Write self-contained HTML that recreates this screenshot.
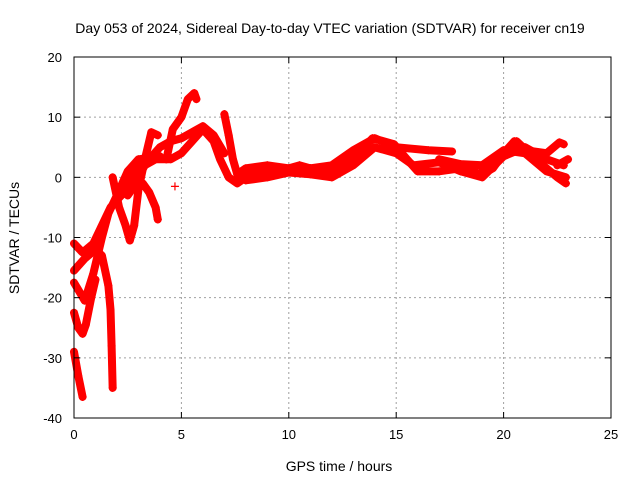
<!DOCTYPE html>
<html><head><meta charset="utf-8"><style>
body{margin:0;background:#fff}
svg{display:block;font-family:"Liberation Sans",sans-serif}
</style></head><body>
<svg id="chart" width="640" height="480">
<text x="330" y="33" text-anchor="middle" font-size="14">Day 053 of 2024, Sidereal Day-to-day VTEC variation (SDTVAR) for receiver cn19</text>
<text x="339" y="471" text-anchor="middle" font-size="14">GPS time / hours</text>
<text transform="translate(19,238) rotate(-90)" text-anchor="middle" font-size="14">SDTVAR / TECUs</text>
<g id="grid"></g><g id="marks"></g><g id="axes"></g>
</svg>
<script>
const xTicks=[0,5,10,15,20,25];
const yTicks=[20,10,0,-10,-20,-30,-40];
const trackA=[[0,-11],[0.4,-12.5],[0.9,-11],[1.3,-8],[1.7,-5],[2.2,-3],[2.8,-1],[3.3,2],[3.8,3],[4.5,3],[5,4],[5.5,6],[6,8],[6.5,6],[6.8,3],[7.2,0],[7.6,-1],[8,0],[9,1],[10,1],[11,1.5],[11.5,0.5],[12,1],[13,3],[13.9,6.5],[14.9,5.5],[15.5,3],[16,1],[17,1],[18,1.5],[19,0.5],[19.5,1.5],[20,4],[20.6,6],[21.5,3],[22.5,0],[22.9,-1]];
const trackB=[[0,-15.5],[0.5,-13.5],[1,-12],[1.3,-13],[1.6,-18],[1.7,-22],[1.75,-28],[1.8,-35]];
const trackC=[[0,-17.5],[0.5,-20.5],[0.9,-16],[1.1,-13],[1.3,-10],[1.6,-6],[2,-3],[2.5,1],[3,3],[4,3.5]];
const trackD=[[0,-22.5],[0.2,-25],[0.4,-26],[0.55,-24.5],[0.8,-20],[1.0,-17]];
const trackE=[[0,-29],[0.2,-33],[0.4,-36.5]];
const trackF=[[2.5,-3],[2.9,-1],[3.2,-1],[3.5,-2.5],[3.8,-5],[3.9,-7]];
const trackG=[[1.8,0],[2.1,-5],[2.4,-8],[2.6,-10.5],[2.8,-8],[3.0,-2],[3.3,3],[3.6,7.5],[3.9,7]];
const trackH=[[4.3,3],[4.6,8],[5,10],[5.3,13],[5.6,14],[5.7,13]];
const trackI=[[7.0,10.5],[7.2,7],[7.4,3],[7.6,0.5],[8,1.5],[9,2],[10,1.5],[11,1.5],[12,2],[13,4.5],[14,6.5],[15,5],[15.6,4.8],[16.5,4.5],[17.6,4.3]];
const trackJ=[[8,-0.5],[9,0],[10,0.8],[11,0.5],[12,0],[13,2],[14,5],[15,4],[15.8,2],[17,2.5],[18,1],[19,0],[20,3.5],[21,5],[22,3],[22.8,2]];
const trackK=[[19,1],[20,4],[20.5,6],[21,4.5],[22,4],[22.6,5.8],[22.8,5.5]];
const trackL=[[22.5,2],[23,3]];
const trackM=[[4.7,-1.5]];
const trackN=[[17,3],[18,2.2],[19,2],[20,4.5],[21,4],[22,1],[22.9,0]];
const trackO=[[7.5,-0.5],[8.5,1],[9.5,1],[10.5,2],[11.5,1],[12.5,1.5]];
const trackP=[[3.5,3],[4,5],[4.5,6],[5,6.5],[5.5,7.5],[6,8.5],[6.5,7],[7,4]];
const trackQ=[[2.2,-3],[2.6,0],[3,2],[3.5,3]];
const tracks=[trackA,trackB,trackC,trackD,trackE,trackF,trackG,trackH,trackI,trackJ,trackK,trackL,trackM,trackN,trackO,trackP,trackQ];
const X0=74,X1=611,Y0=57,Y1=418;
const sx=v=>X0+(v-0)/(25-0)*(X1-X0);
const sy=v=>Y1-(v+40)/(60)*(Y1-Y0);
const NS="http://www.w3.org/2000/svg";
const mk=(t,a,p)=>{const e=document.createElementNS(NS,t);for(const k in a)e.setAttribute(k,a[k]);p.appendChild(e);return e;};
const grid=document.getElementById('grid'),marks=document.getElementById('marks'),axes=document.getElementById('axes');
xTicks.forEach(t=>{const x=sx(t);
 if(t>0&&t<25){const l=mk('line',{x1:x,x2:x,y1:Y0,y2:Y1,stroke:'#a0a0a0','stroke-dasharray':'2,3'},grid);
 
 }
 mk('line',{x1:x,x2:x,y1:Y1,y2:Y1-6,stroke:'#000'},axes);
 mk('line',{x1:x,x2:x,y1:Y0,y2:Y0+6,stroke:'#000'},axes);
 const tx=mk('text',{x:x,y:Y1+21,'text-anchor':'middle','font-size':'13'},axes);tx.textContent=t;
 
 });
yTicks.forEach(t=>{const y=sy(t);
 if(t>-40&&t<20){const l=mk('line',{x1:X0,x2:X1,y1:y,y2:y,stroke:'#a0a0a0','stroke-dasharray':'2,3'},grid);
 
 }
 mk('line',{x1:X0,x2:X0+6,y1:y,y2:y,stroke:'#000'},axes);
 mk('line',{x1:X1,x2:X1-6,y1:y,y2:y,stroke:'#000'},axes);
 const tx=mk('text',{x:X0-12,y:y+5,'text-anchor':'end','font-size':'13'},axes);tx.textContent=t;
 
 });
const box=mk('rect',{x:X0,y:Y0,width:X1-X0,height:Y1-Y0,fill:'none',stroke:'#000'},axes);


tracks.forEach((tr,i)=>{
 if(tr.length>1){const p=mk('polyline',{points:tr.map(d=>sx(d[0])+','+sy(d[1])).join(' '),fill:'none',stroke:'#ff0000','stroke-width':8,'stroke-linejoin':'round','stroke-linecap':'round'},marks);
 
 }
 tr.forEach(d=>{const x=sx(d[0]),y=sy(d[1]);
  const m=mk('path',{d:`M${x-4},${y}H${x+4}M${x},${y-4}V${y+4}`,stroke:'#ff0000','stroke-width':1.2},marks);
  
  });
});
</script>
</body></html>
